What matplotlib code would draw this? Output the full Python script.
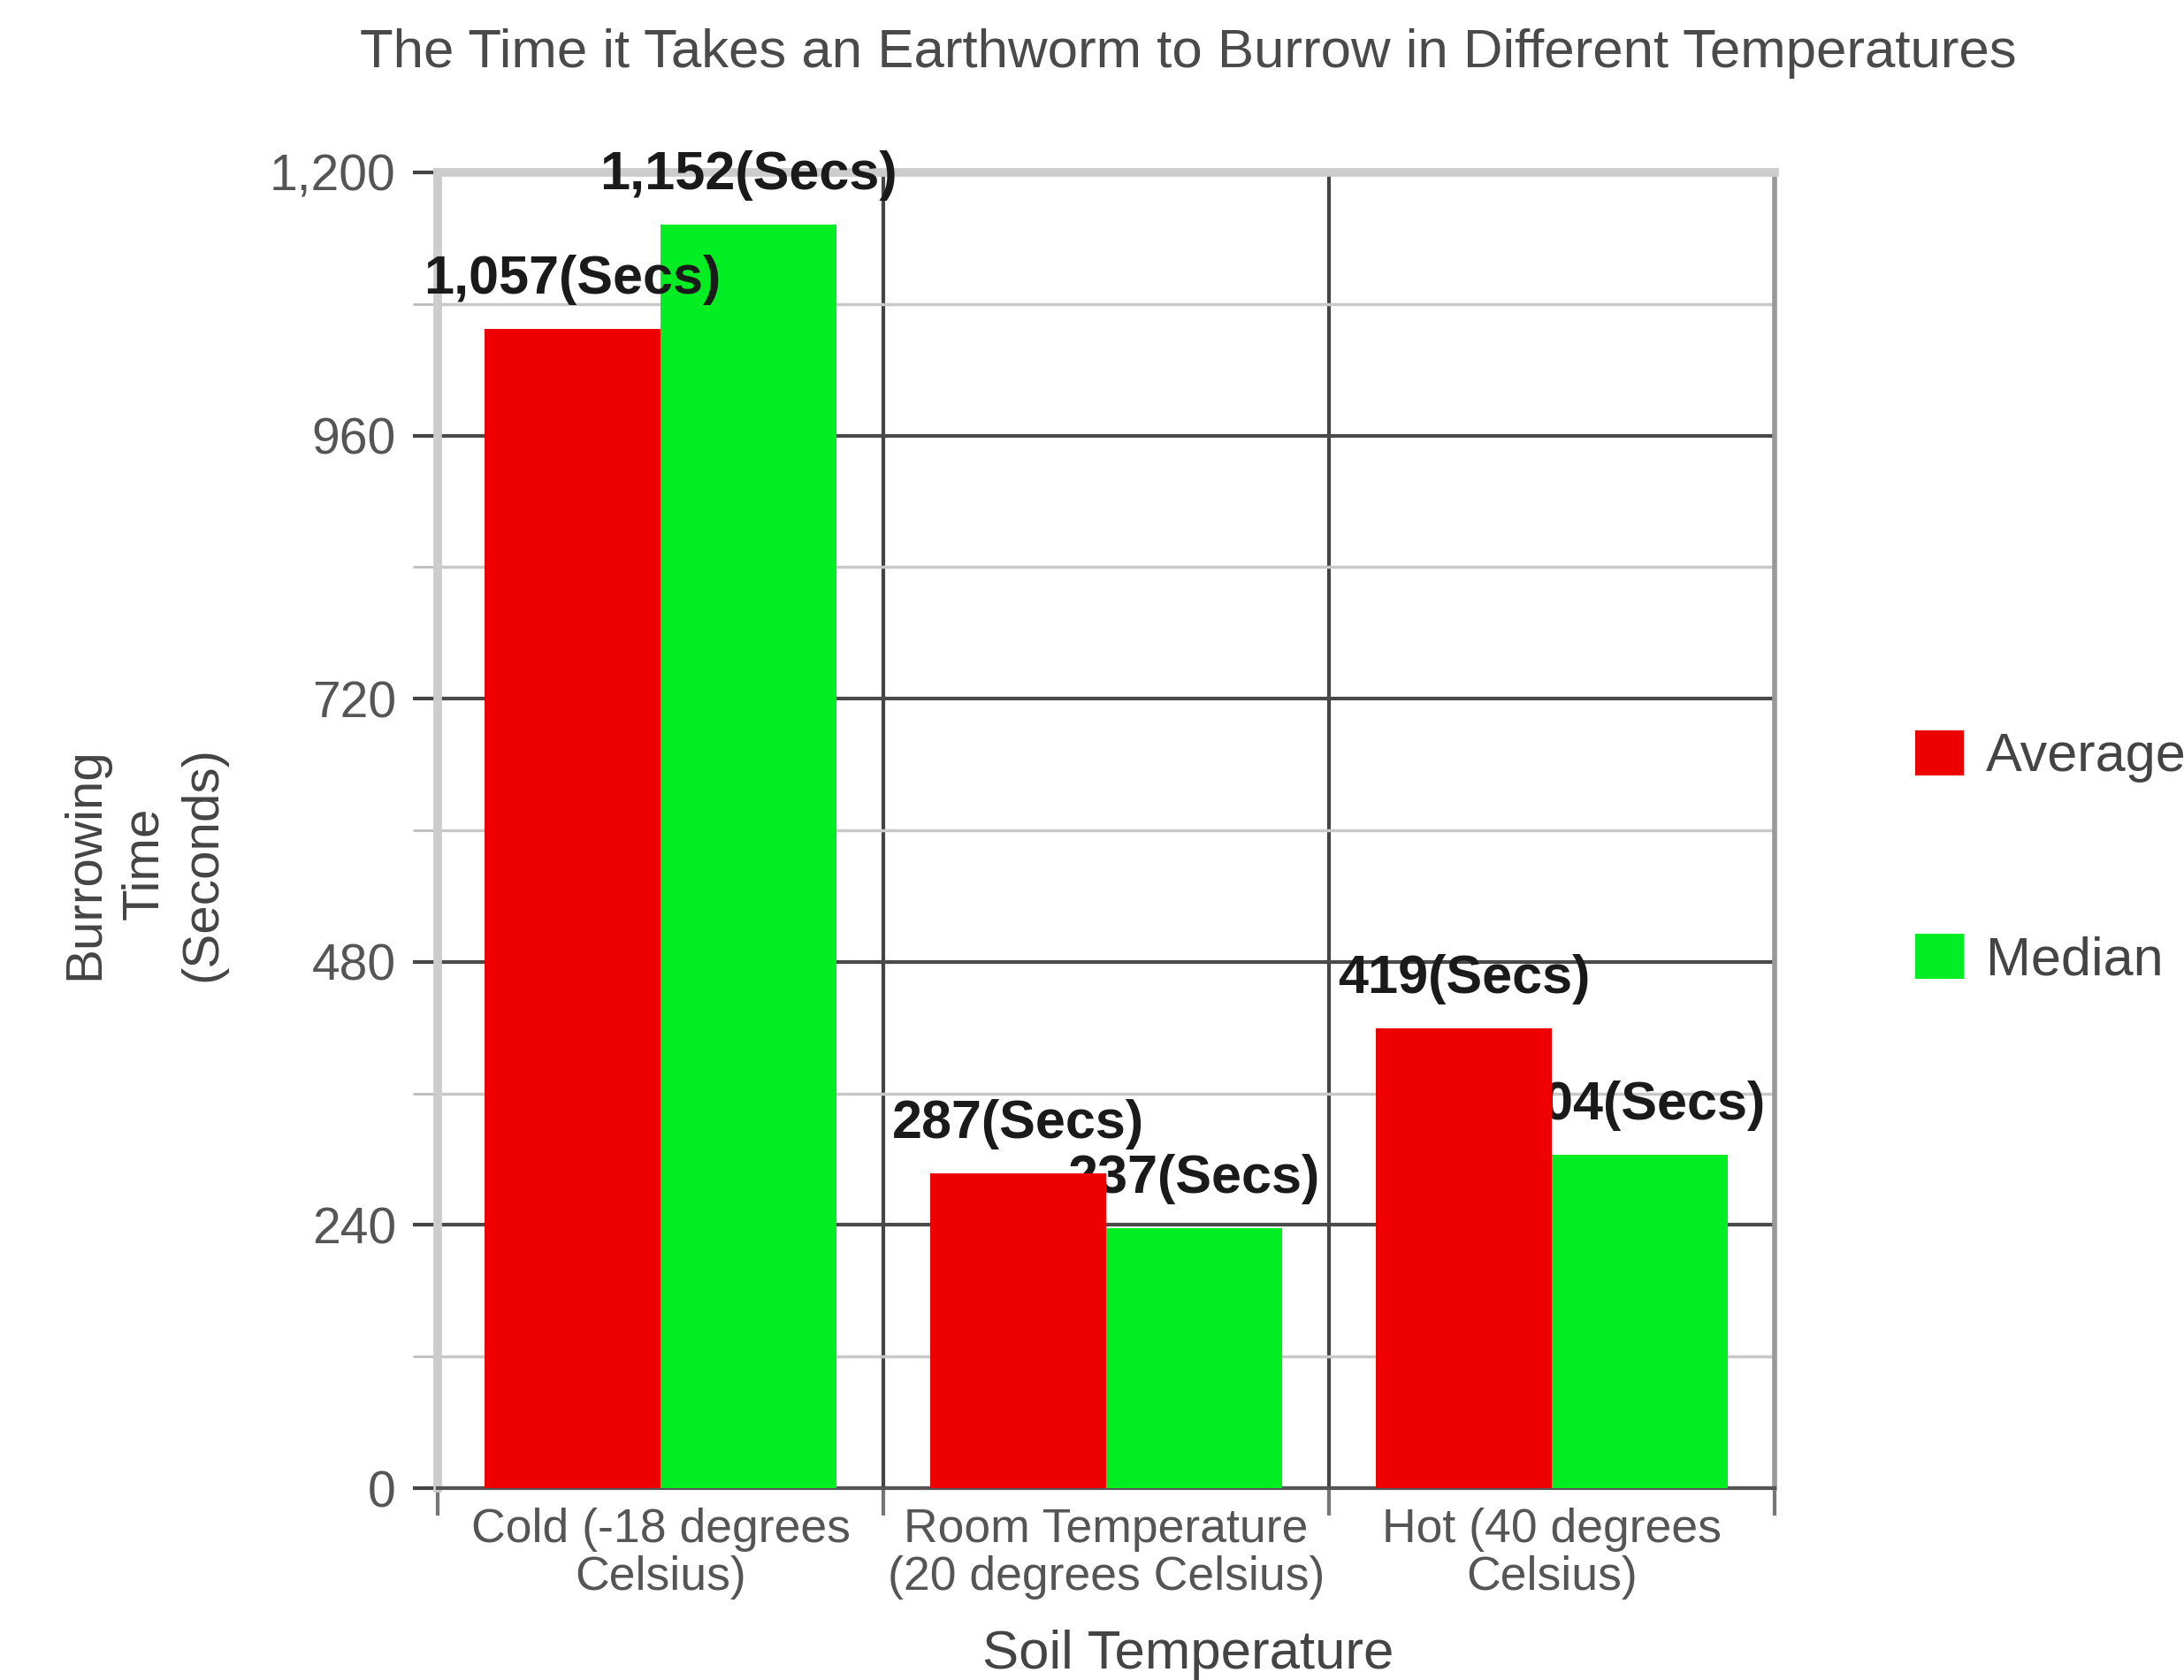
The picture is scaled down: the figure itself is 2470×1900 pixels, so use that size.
import numpy as np
import matplotlib.pyplot as plt

plt.rcParams['font.family'] = ['Liberation Sans', 'DejaVu Sans']

# data
categories = ['Cold (-18 degrees\nCelsius)', 'Room Temperature\n(20 degrees Celsius)', 'Hot (40 degrees\nCelsius)']
average = [1057, 287, 419]
median = [1152, 237, 304]
series_names = ['Average', 'Median']
yticks = [0, 240, 480, 720, 960, 1200]
ytick_labels = ['0', '240', '480', '720', '960', '1,200']

RED = '#ee0000'
GREEN = '#00ee22'
GRAY_TXT = '#555555'

fig = plt.figure(figsize=(24.7, 19), dpi=100)
ax = fig.add_axes([0.2004, 0.1142, 0.6122, 0.7832])

x = np.arange(len(categories))
w = 0.395
b1 = ax.bar(x - w / 2, average, w, color=RED, zorder=3, label=series_names[0])
b2 = ax.bar(x + w / 2, median, w, color=GREEN, zorder=3, label=series_names[1])

# average labels sit on top, median labels get covered by the red bars
for bars, vals, z in ((b1, average, 4), (b2, median, 2.7)):
    for rect, v in zip(bars, vals):
        ax.annotate(f'{v:,}(Secs)', (rect.get_x() + rect.get_width() / 2, v),
                    xytext=(0, 40), textcoords='offset points',
                    ha='center', va='center', fontsize=44, fontweight='bold',
                    color='#1a1a1a', zorder=z)

ax.set_xlim(-0.5, 2.5)
ax.set_ylim(0, 1200)

ax.set_yticks(yticks)
ax.set_yticklabels(ytick_labels)
ax.set_yticks(np.arange(120, 1200, 240), minor=True)
ax.tick_params(axis='y', which='major', length=20, width=3, color='#444444',
               labelsize=41, labelcolor=GRAY_TXT, pad=14)
ax.tick_params(axis='y', which='minor', length=20, width=2, color='#bbbbbb')

ax.set_xticks(x)
ax.set_xticklabels(categories)
ax.set_xticks([-0.5, 0.5, 1.5, 2.5], minor=True)
ax.tick_params(axis='x', which='major', length=0, labelsize=38.5,
               labelcolor=GRAY_TXT, pad=16)
ax.tick_params(axis='x', which='minor', length=22, width=3, color='#777777')
for t in ax.get_xticklabels():
    t.set_linespacing(1.1)

ax.yaxis.grid(True, which='major', color='#4a4a4a', lw=3, zorder=0.5)
ax.yaxis.grid(True, which='minor', color='#c8c8c8', lw=2.5, zorder=0.5)
ax.xaxis.grid(True, which='minor', color='#444444', lw=3, zorder=0.5)
ax.set_axisbelow(True)

for side in ('left', 'top'):
    ax.spines[side].set_color('#cccccc')
    ax.spines[side].set_linewidth(7)
ax.spines['right'].set_color('#999999')
ax.spines['right'].set_linewidth(4)
ax.spines['bottom'].set_color('#555555')
ax.spines['bottom'].set_linewidth(3)

fig.text(0.544, 0.968, 'The Time it Takes an Earthworm to Burrow in Different Temperatures',
         ha='center', va='center', fontsize=44.5, color='#4a4a4a')
fig.text(0.544, 0.015, 'Soil Temperature', ha='center', va='center',
         fontsize=44.5, color='#444444')
fig.text(0.066, 0.486, 'Burrowing\nTime\n(Seconds)', ha='center', va='center',
         rotation=90, fontsize=42, color='#444444', linespacing=1.3,
         multialignment='center')

fig.legend(loc='center left', bbox_to_anchor=(0.877, 0.489), frameon=False,
           fontsize=44, handlelength=0.9, handleheight=0.9, handletextpad=0.4,
           labelspacing=2.8, borderpad=0, borderaxespad=0, labelcolor='#444444')

fig.savefig('out.png', dpi=100)
